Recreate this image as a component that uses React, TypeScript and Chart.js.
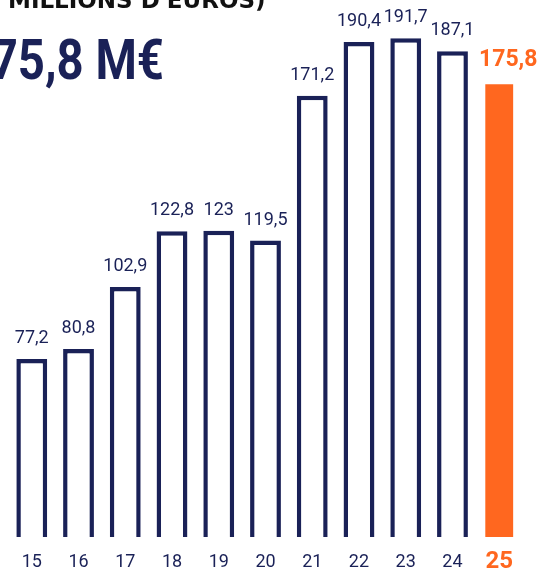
import React, { useEffect, useRef } from "react";
import { Chart, registerables } from "chart.js";

Chart.register(...registerables);

const categories = ["15", "16", "17", "18", "19", "20", "21", "22", "23", "24", "25"];
const revenue = [77.2, 80.8, 102.9, 122.8, 123, 119.5, 171.2, 190.4, 191.7, 187.1, 175.8];
const headerLine = "MILLIONS D'EUROS)";
const headline = "175,8 M€";

const NAVY = "#1a2157";
const ORANGE = "#ff671f";
const LAST = categories.length - 1;

const fmt = (v: number) => String(v).replace(".", ",");

const labelsPlugin = {
  id: "valueLabels",
  afterDatasetsDraw(chart: any) {
    const ctx = chart.ctx;
    const meta = chart.getDatasetMeta(0);
    ctx.save();
    ctx.textAlign = "center";
    ctx.textBaseline = "alphabetic";
    meta.data.forEach((bar: any, i: number) => {
      const v = revenue[i];
      if (i === LAST) {
        ctx.fillStyle = ORANGE;
        ctx.font = "bold 23px Roboto";
        ctx.fillText(fmt(v), bar.x + 9, bar.y - 17);
      } else {
        ctx.fillStyle = NAVY;
        ctx.font = "18px Roboto";
        ctx.fillText(fmt(v), bar.x, bar.y - 16);
      }
    });
    ctx.restore();
  },
  afterDraw(chart: any) {
    const ctx = chart.ctx;
    ctx.save();
    ctx.fillStyle = "#111111";
    ctx.font = "bold 23px 'DejaVu Sans'";
    ctx.textAlign = "left";
    ctx.textBaseline = "alphabetic";
    ctx.fillText(headerLine, 8, 8);
    ctx.restore();

    ctx.save();
    ctx.fillStyle = NAVY;
    ctx.font = "bold 55px Roboto";
    ctx.textAlign = "right";
    ctx.textBaseline = "alphabetic";
    ctx.translate(164, 79);
    ctx.scale(0.86, 1);
    ctx.fillText(headline, 0, 0);
    ctx.restore();
  },
};

export default function App() {
  const ref = useRef<HTMLCanvasElement | null>(null);
  useEffect(() => {
    if (!ref.current) return;
    const chart = new Chart(ref.current, {
      type: "bar",
      data: {
        labels: categories,
        datasets: [
          {
            data: revenue,
            backgroundColor: revenue.map((_, i) => (i === LAST ? ORANGE : "#ffffff")),
            borderColor: revenue.map((_, i) => (i === LAST ? "rgba(0,0,0,0)" : NAVY)),
            borderWidth: revenue.map((_, i) => (i === LAST ? 1.5 : 4.5)),
            borderSkipped: false,
            barPercentage: 0.66,
            categoryPercentage: 1,
          },
        ],
      },
      options: {
        responsive: false,
        animation: false,
        devicePixelRatio: 1,
        layout: { padding: { left: 8.4, right: 16.4, top: 15, bottom: 0 } },
        plugins: { legend: { display: false }, tooltip: { enabled: false }, title: { display: false } },
        scales: {
          y: { display: false, min: 13.7, max: 200 },
          x: {
            grid: { display: false },
            border: { display: false },
            afterFit: (s: any) => {
              s.height = 36;
            },
            ticks: {
              padding: 8,
              color: (c: any) => (c.index === LAST ? ORANGE : NAVY),
              font: (c: any) =>
                c.index === LAST
                  ? { family: "Roboto", size: 24, weight: "bold", lineHeight: 0.75 }
                  : { family: "Roboto", size: 18, lineHeight: 1 },
            },
          },
        },
      },
      plugins: [labelsPlugin],
    });
    return () => chart.destroy();
  }, []);
  return (
    <div style={{ position: "absolute", left: 0, top: 0, width: 539, height: 573, background: "#fff" }}>
      <canvas ref={ref} width={539} height={573} style={{ display: "block" }} />
    </div>
  );
}
